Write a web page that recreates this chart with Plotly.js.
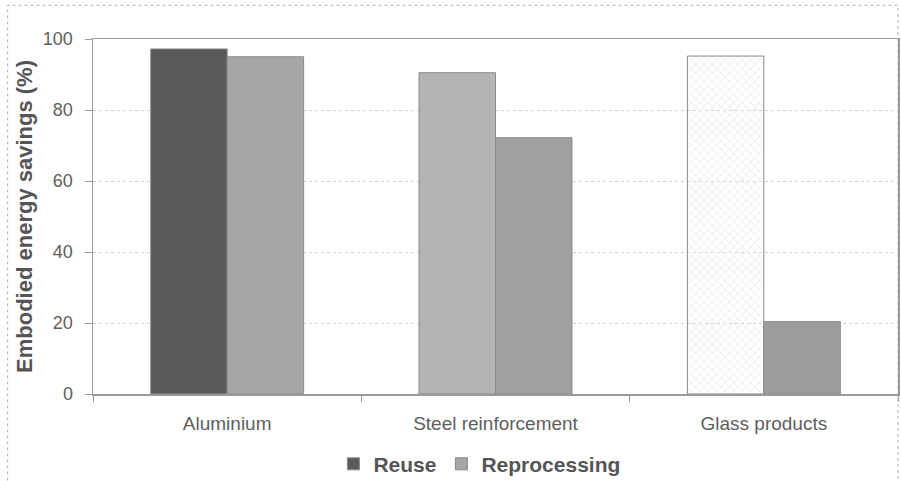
<!DOCTYPE html>
<html>
<head>
<meta charset="utf-8">
<script src="https://cdn.plot.ly/plotly-3.0.1.min.js"></script>
<style>
  html, body { margin: 0; padding: 0; background: #fff; }
  #chart { width: 901px; height: 481px; }
</style>
</head>
<body>
<div id="chart"></div>
<script>
const categories = ["Aluminium", "Steel reinforcement", "Glass products"];
const reuseValues = [97.2, 90.5, 95.2];
const reprocessingValues = [95, 72.2, 20.4];
const yTicks = [0, 20, 40, 60, 80, 100];

const reuseColors = ["#5a5a5a", "#b4b4b4", "#efefef"];
const reprocessingColors = ["#a6a6a6", "#a0a0a0", "#9c9c9c"];

const traces = [
  {
    type: "bar",
    name: "Reuse",
    x: categories,
    y: reuseValues,
    marker: {
      color: reuseColors,
      line: { color: "#8a8a8a", width: 1 },
      pattern: { shape: ["", "", "x"], fgcolor: "#bdbdbd", size: 6, solidity: 0.3 }
    },
    hoverinfo: "x+y"
  },
  {
    type: "bar",
    name: "Reprocessing",
    x: categories,
    y: reprocessingValues,
    marker: {
      color: reprocessingColors,
      line: { color: "#8a8a8a", width: 1 }
    },
    hoverinfo: "x+y"
  }
];

const layout = {
  width: 901,
  height: 481,
  margin: { l: 93, r: 3, t: 39, b: 87, autoexpand: false },
  paper_bgcolor: "#ffffff",
  plot_bgcolor: "#ffffff",
  barmode: "group",
  bargap: 0.43,
  bargroupgap: 0,
  font: { family: "Liberation Sans, Arial, sans-serif", color: "#555" },
  xaxis: {
    type: "category",
    showline: true,
    linecolor: "#9a9a9a",
    linewidth: 1.5,
    mirror: true,
    showgrid: false,
    ticks: "outside",
    tickson: "boundaries",
    ticklen: 6,
    tickcolor: "#9a9a9a",
    ticklabelstandoff: 12,
    tickfont: { size: 19, color: "#5e5e5e" },
    fixedrange: true
  },
  yaxis: {
    range: [0, 100],
    tickvals: yTicks,
    ticktext: yTicks.map(String),
    ticks: "outside",
    ticklen: 7,
    tickcolor: "#9a9a9a",
    ticklabelstandoff: 8,
    showline: true,
    linecolor: "#9a9a9a",
    linewidth: 1.5,
    mirror: true,
    showgrid: true,
    gridcolor: "#d0d0d0",
    griddash: "dot",
    zeroline: false,
    tickfont: { size: 18, color: "#5e5e5e" },
    title: {
      text: "<b>Embodied energy savings (%)</b>",
      font: { size: 22, color: "#555" },
      standoff: 4
    },
    fixedrange: true
  },
  legend: {
    orientation: "h",
    x: 0.48,
    xanchor: "center",
    yref: "container",
    y: 0.035,
    yanchor: "middle",
    bgcolor: "rgba(0,0,0,0)",
    font: { size: 21, color: "#555", weight: "bold" },
    itemwidth: 30,
    traceorder: "normal"
  },
  showlegend: true,
  shapes: [
    {
      type: "rect", xref: "paper", yref: "paper",
      x0: -0.106, x1: 1.0, y0: -0.3, y1: 1.095,
      line: { color: "#b0b0b0", width: 1, dash: "dot" },
      fillcolor: "rgba(0,0,0,0)", layer: "below"
    }
  ]
};

Plotly.newPlot("chart", traces, layout, { displayModeBar: false, staticPlot: true });
</script>
</body>
</html>
